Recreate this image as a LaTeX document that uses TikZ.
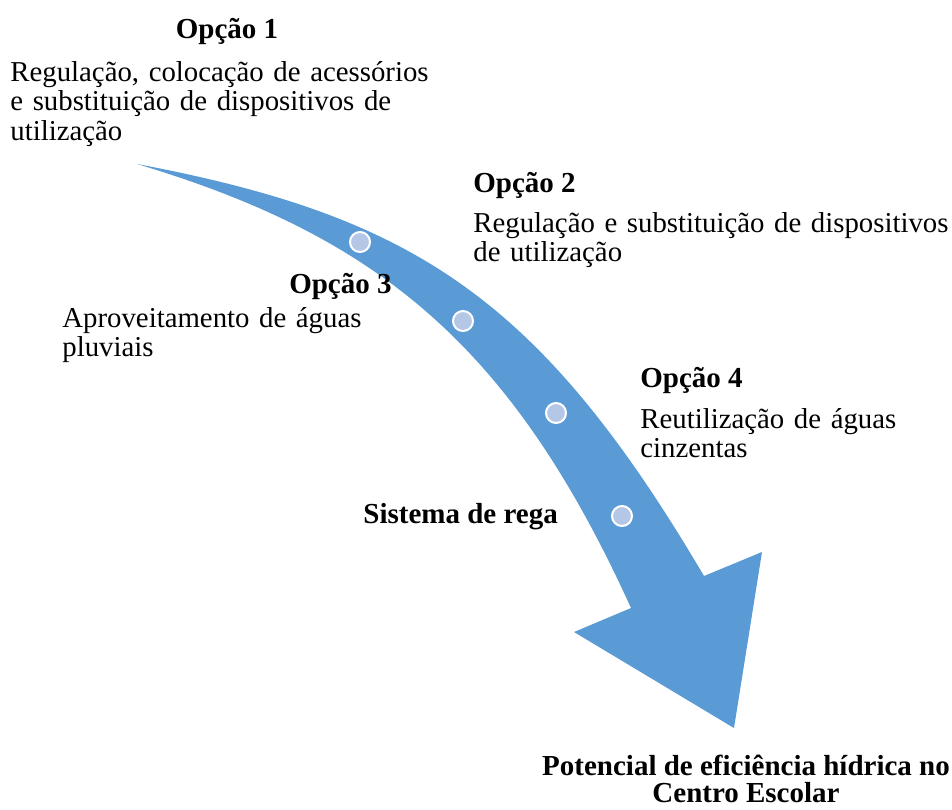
\documentclass[tikz,border=0pt]{standalone}
\usepackage{fontspec}
\setmainfont{Liberation Serif}
\definecolor{arrowblue}{HTML}{5B9BD5}
\definecolor{dotfill}{HTML}{B4C7E7}
\begin{document}
\begin{tikzpicture}[x=0.5pt,y=-0.5pt,
  body/.style={font=\fontsize{14.4}{14.75}\selectfont, inner sep=0pt, align=left, text width=280pt},
  ttl/.style={font=\fontsize{14.5}{15}\selectfont\bfseries, inner sep=0pt},
  dot/.style={circle, fill=dotfill, draw=white, line width=1pt, minimum size=10pt, inner sep=0pt}]
\useasboundingbox (0,0) rectangle (952,809);
\coordinate (tail) at (137,164);
\coordinate (so) at (704,576);
\coordinate (bo) at (762,552);
\coordinate (tip) at (734,728);
\coordinate (bi) at (574,632);
\coordinate (si) at (631,608);
\fill[arrowblue] (tail) .. controls (412,216) and (539,296) .. (so)
  -- (bo) -- (tip) -- (bi) -- (si)
  .. controls (511,344) and (377,236) .. (tail) -- cycle;
\node[dot] (d1) at (360,242) {};
\node[dot] (d2) at (463,321) {};
\node[dot] (d3) at (556,413) {};
\node[dot] (d4) at (622,516) {};
\node[ttl, anchor=base] (t1) at (227,38) {Opção 1};
\node[body, anchor=base west] (b1) at (10,81) {Regulação, colocação de acessórios\\ e substituição de dispositivos de\\ utilização};
\node[ttl, anchor=base west] (t2) at (473,192) {Opção 2};
\node[body, anchor=base west] (b2) at (473,232) {Regulação e substituição de dispositivos\\ de utilização};
\node[ttl, anchor=base east] (t3) at (392,293) {Opção 3};
\node[body, anchor=base west] (b3) at (62,327) {Aproveitamento de águas\\ pluviais};
\node[ttl, anchor=base west] (t4) at (640,387) {Opção 4};
\node[body, anchor=base west] (b4) at (640,428) {Reutilização de águas\\ cinzentas};
\node[ttl, anchor=base west] (t5) at (363,523) {Sistema de rega};
\node[ttl, anchor=base] (t6) at (746,775) {Potencial de eficiência hídrica no};
\node[ttl, anchor=base] (t7) at (746,802) {Centro Escolar};
\end{tikzpicture}
\end{document}
